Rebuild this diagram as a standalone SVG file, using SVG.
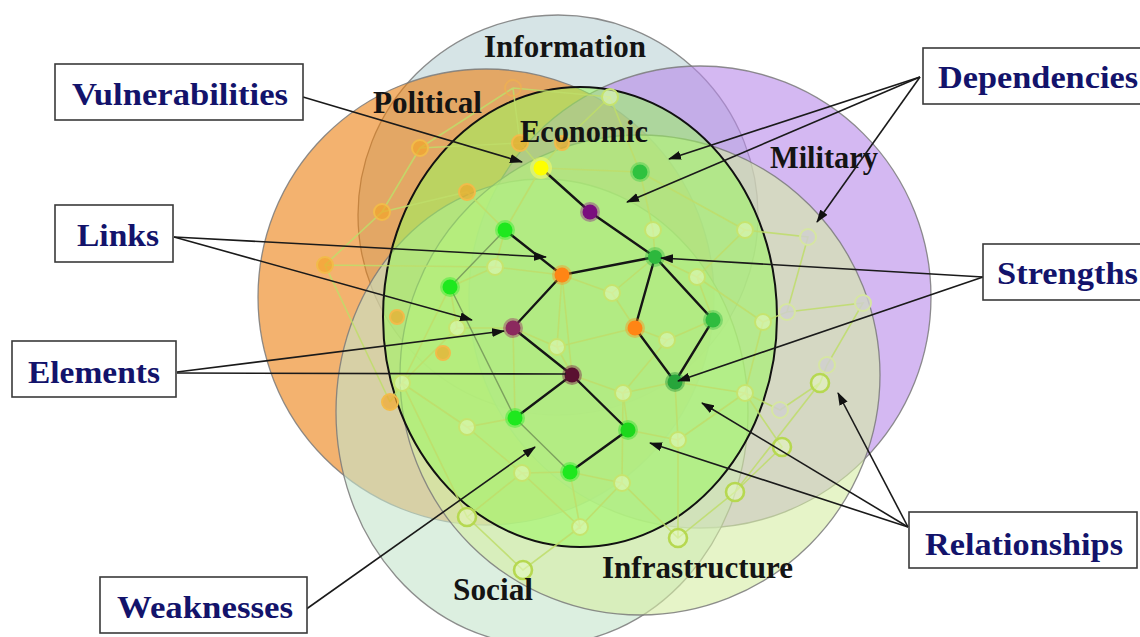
<svg xmlns="http://www.w3.org/2000/svg" width="1140" height="637" viewBox="0 0 1140 637">
<defs>
<style>
.zone{stroke:#7a7a7a;stroke-width:1.3;stroke-opacity:0.85}
.zlab{font-family:"Liberation Serif","Times New Roman",serif;font-weight:bold;font-size:31px;fill:#141414}
.box{fill:#ffffff;stroke:#3a3a3a;stroke-width:1.6}
.blab{font-family:"Liberation Serif","Times New Roman",serif;font-weight:bold;font-size:32px;fill:#13136b}
.fe{stroke:#bedd6a;stroke-width:1.6;stroke-opacity:0.85;fill:none}
.ge{stroke:#6f8f55;stroke-width:1.4;stroke-opacity:0.8;fill:none}
.be{stroke:#151515;stroke-width:2.4;fill:none}
.fn{fill:#e6f9bd;fill-opacity:0.55;stroke:#c6e46e;stroke-width:2}
.fs{fill:#e6f9bd;fill-opacity:0.55;stroke:#b6d850;stroke-width:2.6}
.gn{fill:#cfcfcf;fill-opacity:0.8;stroke:#d6e6a2;stroke-width:2}
.on{fill:#f5a425;fill-opacity:0.65;stroke:#f2bb4a;stroke-width:2}
.oh{fill:none;stroke:#f0b050;stroke-width:2;stroke-opacity:0.7}
.ar{stroke:#1a1a1a;stroke-width:1.6;fill:none;marker-end:url(#ah)}
.ln{stroke:#1a1a1a;stroke-width:1.6;fill:none}
</style>
<marker id="ah" markerWidth="13" markerHeight="9" refX="12" refY="4.5" orient="auto" markerUnits="userSpaceOnUse">
<path d="M0,0 L13,4.5 L0,9 z" fill="#111"/>
</marker>
</defs>
<rect width="1140" height="637" fill="#ffffff"/>

<g id="zones">
<g id="zone-information"><circle class="zone" cx="558" cy="215" r="200" fill="#bbd2d5" fill-opacity="0.6"/></g>
<g id="zone-political"><circle class="zone" cx="486" cy="297" r="228" fill="#eb7f0f" fill-opacity="0.6"/></g>
<g id="zone-military"><circle class="zone" cx="700" cy="297" r="231" fill="#b789e9" fill-opacity="0.6"/></g>
<g id="zone-social"><ellipse class="zone" cx="542" cy="412" rx="206" ry="233" fill="#c5e4cb" fill-opacity="0.6"/></g>
<g id="zone-infrastructure"><circle class="zone" cx="640" cy="375" r="240" fill="#d5eda3" fill-opacity="0.6"/></g>
<g id="zone-economic"><ellipse cx="580" cy="317" rx="197" ry="230" fill="#9bf75e" fill-opacity="0.55" stroke="#111" stroke-width="2"/></g>
</g>

<g id="network-links">
<path class="fe" d="M420,148 L382,212 L325,265 L390,402 M325,265 L495,267 M420,148 L520,143 M420,148 L513,88 M382,212 L467,192 L505,230 M513,88 L520,143 L541,168 M562,143 L541,168 M562,143 L610,97 L640,172 M610,97 L513,88 M541,168 L505,230 M541,168 L640,172 M640,172 L653,230 M640,172 L745,230 L697,277 M653,230 L655,257 M697,277 L655,257 M697,277 L713,320 M745,230 L808,237 L787,312 L763,322 M787,312 L863,303 L827,365 L820,383 L780,410 L745,393 L763,322 M745,393 L782,447 L735,492 M820,383 L735,492 L678,538 L622,483 L570,472 M580,527 L523,570 L467,517 L402,383 L390,402 M402,383 L457,328 L513,328 M457,328 L450,287 L495,267 L562,275 M495,267 L505,230 M612,293 L562,275 M612,293 L655,257 M612,293 L635,328 M667,340 L635,328 M667,340 L713,320 M667,340 L623,393 L675,382 M623,393 L572,375 M623,393 L628,430 M678,440 L628,430 M678,440 L745,393 M678,440 L678,538 M675,382 L745,393 M675,382 L678,440 M557,347 L513,328 M557,347 L572,375 M557,347 L635,328 M557,347 L562,275 M467,427 L515,418 M467,427 L402,383 M467,427 L522,473 L570,472 M522,473 L580,527 L570,472 M622,483 L580,527 M467,517 L522,473 M697,277 L763,322 M623,393 L622,483 M513,328 L515,418 M450,287 L402,383 M562,275 L572,375"/>
<path class="ge" d="M450,287 L505,230 M450,287 L515,418 M515,418 L570,472"/>
</g>

<g id="network-nodes">
<circle class="on" cx="420" cy="148" r="8"/>
<circle class="on" cx="382" cy="212" r="8"/>
<circle class="on" cx="325" cy="265" r="8"/>
<circle class="oh" cx="513" cy="88" r="8"/>
<circle class="on" cx="467" cy="192" r="8" fill-opacity="0.3"/>
<circle class="on" cx="520" cy="143" r="8" fill-opacity="0.25"/>
<circle class="on" cx="562" cy="143" r="7" fill-opacity="0.3"/>
<circle class="on" cx="390" cy="402" r="8" fill-opacity="0.25"/>
<circle class="on" cx="397" cy="317" r="7" fill-opacity="0.2"/>
<circle class="on" cx="443" cy="353" r="7" fill-opacity="0.2"/>
<circle class="fn" cx="610" cy="97" r="8"/>
<circle class="fn" cx="495" cy="267" r="8"/>
<circle class="fn" cx="457" cy="328" r="8"/>
<circle class="fn" cx="402" cy="383" r="8"/>
<circle class="fn" cx="467" cy="427" r="8"/>
<circle class="fn" cx="557" cy="347" r="8"/>
<circle class="fs" cx="467" cy="517" r="9"/>
<circle class="fs" cx="523" cy="570" r="9"/>
<circle class="fn" cx="580" cy="527" r="8"/>
<circle class="fn" cx="622" cy="483" r="8"/>
<circle class="fs" cx="678" cy="538" r="9"/>
<circle class="fs" cx="735" cy="492" r="9"/>
<circle class="fn" cx="522" cy="473" r="8"/>
<circle class="fn" cx="678" cy="440" r="8"/>
<circle class="fn" cx="623" cy="393" r="8"/>
<circle class="fn" cx="745" cy="393" r="8"/>
<circle class="fn" cx="763" cy="322" r="8"/>
<circle class="fn" cx="667" cy="340" r="8"/>
<circle class="fs" cx="782" cy="447" r="9"/>
<circle class="fs" cx="820" cy="383" r="9"/>
<circle class="fn" cx="745" cy="230" r="8"/>
<circle class="fn" cx="697" cy="277" r="8"/>
<circle class="fn" cx="653" cy="230" r="8"/>
<circle class="fn" cx="612" cy="293" r="8"/>
<circle class="gn" cx="808" cy="237" r="8"/>
<circle class="gn" cx="787" cy="312" r="8"/>
<circle class="gn" cx="863" cy="303" r="8"/>
<circle class="gn" cx="827" cy="365" r="8"/>
<circle class="gn" cx="780" cy="410" r="8"/>
</g>

<g id="key-links">
<path class="be" d="M541,168 L590,212 L655,257 L713,320 L675,382 M655,257 L635,328 L675,382 M505,230 L562,275 L655,257 M562,275 L513,328 L572,375 L515,418 M572,375 L628,430 L570,472"/>
</g>

<g id="key-nodes">
<g id="n-yellow"><circle cx="541" cy="168" r="11" fill="#ffff66" fill-opacity="0.5"/><circle cx="541" cy="168" r="7.5" fill="#ffff00"/></g>
<g id="n-purple"><circle cx="590" cy="212" r="10" fill="#8a1a8a" fill-opacity="0.4"/><circle cx="590" cy="212" r="7.5" fill="#7a0f7e"/></g>
<g id="n-g1"><circle cx="640" cy="172" r="10" fill="#33cc44" fill-opacity="0.4"/><circle cx="640" cy="172" r="7.5" fill="#2fc23f"/></g>
<g id="n-g2"><circle cx="505" cy="230" r="10" fill="#22ee22" fill-opacity="0.4"/><circle cx="505" cy="230" r="7.5" fill="#1ee81e"/></g>
<g id="n-o1"><circle cx="562" cy="275" r="10" fill="#ff8c1a" fill-opacity="0.4"/><circle cx="562" cy="275" r="7.5" fill="#ff8515"/></g>
<g id="n-g3"><circle cx="655" cy="257" r="10" fill="#33bb44" fill-opacity="0.4"/><circle cx="655" cy="257" r="7" fill="#2db83d"/></g>
<g id="n-g4"><circle cx="450" cy="287" r="10" fill="#22ee22" fill-opacity="0.4"/><circle cx="450" cy="287" r="7.5" fill="#1ee81e"/></g>
<g id="n-m1"><circle cx="513" cy="328" r="10" fill="#993366" fill-opacity="0.45"/><circle cx="513" cy="328" r="7.5" fill="#8b2a5e"/></g>
<g id="n-o2"><circle cx="635" cy="328" r="10" fill="#ff8c1a" fill-opacity="0.4"/><circle cx="635" cy="328" r="7.5" fill="#ff8515"/></g>
<g id="n-g5"><circle cx="713" cy="320" r="10" fill="#33bb44" fill-opacity="0.4"/><circle cx="713" cy="320" r="7.5" fill="#2ebc3e"/></g>
<g id="n-m2"><circle cx="572" cy="375" r="10" fill="#772244" fill-opacity="0.45"/><circle cx="572" cy="375" r="7.5" fill="#5a1030"/></g>
<g id="n-g6"><circle cx="675" cy="382" r="10" fill="#2a9a3a" fill-opacity="0.45"/><circle cx="675" cy="382" r="7.5" fill="#27a53a"/></g>
<g id="n-g7"><circle cx="515" cy="418" r="10" fill="#22ee22" fill-opacity="0.4"/><circle cx="515" cy="418" r="7.5" fill="#1ee81e"/></g>
<g id="n-g8"><circle cx="628" cy="430" r="10" fill="#22dd22" fill-opacity="0.4"/><circle cx="628" cy="430" r="7.5" fill="#1cd81c"/></g>
<g id="n-g9"><circle cx="570" cy="472" r="10" fill="#22ee22" fill-opacity="0.4"/><circle cx="570" cy="472" r="7.5" fill="#1ee81e"/></g>
</g>

<g id="zone-labels">
<text class="zlab" x="484" y="57" textLength="162" lengthAdjust="spacingAndGlyphs">Information</text>
<text class="zlab" x="373" y="113" textLength="109" lengthAdjust="spacingAndGlyphs">Political</text>
<text class="zlab" x="520" y="142" textLength="128" lengthAdjust="spacingAndGlyphs">Economic</text>
<text class="zlab" x="770" y="168" textLength="108" lengthAdjust="spacingAndGlyphs">Military</text>
<text class="zlab" x="453" y="600" textLength="80" lengthAdjust="spacingAndGlyphs">Social</text>
<text class="zlab" x="602" y="578" textLength="191" lengthAdjust="spacingAndGlyphs">Infrastructure</text>
</g>

<g id="connectors">
<line class="ar" x1="303" y1="97" x2="522" y2="162"/>
<line class="ar" x1="174" y1="237" x2="546" y2="257"/>
<line class="ar" x1="174" y1="237" x2="472" y2="320"/>
<line class="ar" x1="177" y1="372" x2="504" y2="331"/>
<line class="ln" x1="177" y1="373" x2="566" y2="374"/>
<line class="ar" x1="920" y1="77" x2="669" y2="159"/>
<line class="ar" x1="920" y1="77" x2="627" y2="202"/>
<line class="ar" x1="920" y1="77" x2="817" y2="222"/>
<line class="ar" x1="983" y1="277" x2="661" y2="258"/>
<line class="ar" x1="983" y1="277" x2="678" y2="381"/>
<line class="ar" x1="908" y1="527" x2="838" y2="393"/>
<line class="ar" x1="908" y1="527" x2="702" y2="403"/>
<line class="ar" x1="908" y1="527" x2="650" y2="443"/>
<line class="ar" x1="305" y1="610" x2="535" y2="447"/>
</g>

<g id="box-vulnerabilities"><rect class="box" x="55" y="64" width="248" height="56"/><text class="blab" x="72" y="105" textLength="216" lengthAdjust="spacingAndGlyphs">Vulnerabilities</text></g>
<g id="box-links"><rect class="box" x="55" y="205" width="118" height="57"/><text class="blab" x="77" y="246" textLength="82" lengthAdjust="spacingAndGlyphs">Links</text></g>
<g id="box-elements"><rect class="box" x="12" y="341" width="164" height="56"/><text class="blab" x="28" y="383" textLength="132" lengthAdjust="spacingAndGlyphs">Elements</text></g>
<g id="box-dependencies"><rect class="box" x="923" y="48" width="222" height="56"/><text class="blab" x="938" y="88" textLength="200" lengthAdjust="spacingAndGlyphs">Dependencies</text></g>
<g id="box-strengths"><rect class="box" x="983" y="244" width="162" height="56"/><text class="blab" x="997" y="284" textLength="141" lengthAdjust="spacingAndGlyphs">Strengths</text></g>
<g id="box-relationships"><rect class="box" x="909" y="512" width="228" height="56"/><text class="blab" x="925" y="555" textLength="198" lengthAdjust="spacingAndGlyphs">Relationships</text></g>
<g id="box-weaknesses"><rect class="box" x="100" y="577" width="207" height="56"/><text class="blab" x="117" y="618" textLength="176" lengthAdjust="spacingAndGlyphs">Weaknesses</text></g>
</svg>
